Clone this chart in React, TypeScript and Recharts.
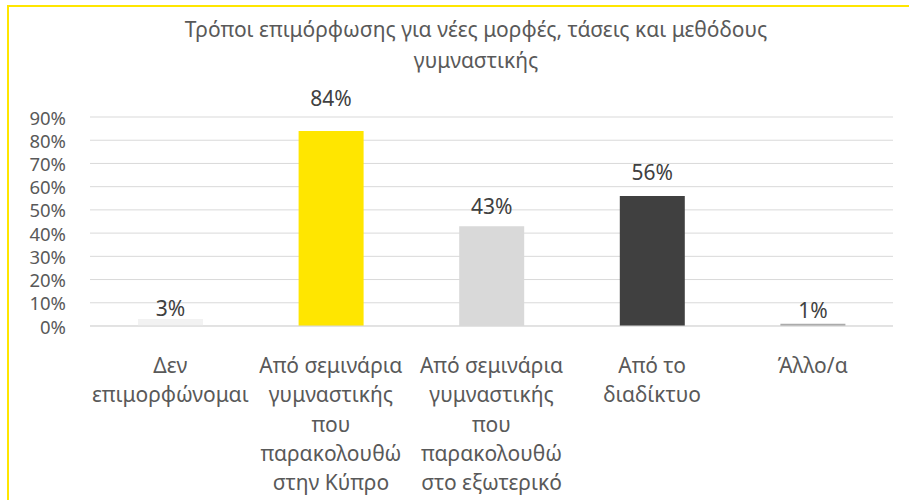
import React from "react";
import { BarChart, Bar, XAxis, YAxis, CartesianGrid, Cell, LabelList } from "recharts";

const categories = [
  "Δεν επιμορφώνομαι",
  "Από σεμινάρια γυμναστικής που παρακολουθώ στην Κύπρο",
  "Από σεμινάρια γυμναστικής που παρακολουθώ στο εξωτερικό",
  "Από το διαδίκτυο",
  "Άλλο/α",
];
const values = [0.03, 0.84, 0.43, 0.56, 0.01];
const categoryLines = [
  ["Δεν", "επιμορφώνομαι"],
  ["Από σεμινάρια", "γυμναστικής", "που", "παρακολουθώ", "στην Κύπρο"],
  ["Από σεμινάρια", "γυμναστικής", "που", "παρακολουθώ", "στο εξωτερικό"],
  ["Από το", "διαδίκτυο"],
  ["Άλλο/α"],
];
const yTicks = [0, 0.1, 0.2, 0.3, 0.4, 0.5, 0.6, 0.7, 0.8, 0.9];
const barColors = ["#F2F2F2", "#FFE600", "#D9D9D9", "#404040", "#ABABAB"];
const labelLift = [11, 33, 20, 24, 14];
const titleLines = ["Τρόποι επιμόρφωσης για νέες μορφές, τάσεις και μεθόδους", "γυμναστικής"];

const data = categories.map((c, i) => ({ name: c, value: values[i], idx: i }));

const FONT = "'Noto Sans', sans-serif";
const TEXT = "#595959";

const pct = (v: number) => `${Math.round(v * 100)}%`;

const CategoryTick = (props: any) => {
  const { x, y, payload } = props;
  const lines = categoryLines[payload.index] || [String(payload.value)];
  return (
    <g>
      {lines.map((l: string, i: number) => (
        <text
          key={i}
          x={x}
          y={y + 31 + i * 29.3}
          textAnchor="middle"
          dominantBaseline="central"
          fill={TEXT}
          fontSize={21}
          fontFamily={FONT}
        >
          {l}
        </text>
      ))}
    </g>
  );
};

const YTick = (props: any) => {
  const { x, y, payload } = props;
  return (
    <text x={x} y={y} textAnchor="end" dominantBaseline="central" fill={TEXT} fontSize={18.5} fontFamily={FONT}>
      {pct(payload.value)}
    </text>
  );
};

const ValueLabel = (props: any) => {
  const { x, y, width, value, index } = props;
  return (
    <text
      x={x + width / 2}
      y={y - labelLift[index]}
      textAnchor="middle"
      dominantBaseline="central"
      fill="#404040"
      fontSize={21}
      fontFamily={FONT}
    >
      {pct(value)}
    </text>
  );
};

export default function App() {
  return (
    <div style={{ position: "fixed", left: 0, top: 0, width: 909, height: 500, background: "#fff", overflow: "hidden" }}>
      <div
        style={{
          position: "absolute",
          left: 7,
          top: 5,
          width: 960,
          height: 560,
          borderTop: "2px solid #FFE600",
          borderLeft: "2px solid #FFE600",
          boxSizing: "border-box",
        }}
      />
      <div
        style={{
          position: "absolute",
          left: 0,
          top: 14,
          width: 952,
          textAlign: "center",
          fontFamily: FONT,
          fontSize: 21,
          lineHeight: "31px",
          color: TEXT,
        }}
      >
        {titleLines.map((t, i) => (
          <div key={i}>{t}</div>
        ))}
      </div>
      <div style={{ position: "absolute", left: 0, top: 0 }}>
        <BarChart width={909} height={500} data={data} margin={{ top: 117, right: 16, bottom: 0, left: 0 }} barSize={65}>
          <CartesianGrid vertical={false} stroke="#D9D9D9" strokeWidth={1} />
          <XAxis
            dataKey="name"
            height={174}
            tickLine={false}
            axisLine={{ stroke: "#D9D9D9" }}
            interval={0}
            tick={<CategoryTick />}
          />
          <YAxis
            width={90}
            domain={[0, 0.9]}
            ticks={yTicks}
            interval={0}
            axisLine={false}
            tickLine={false}
            tickSize={0}
            tickMargin={24}
            tick={<YTick />}
          />
          <Bar dataKey="value" isAnimationActive={false}>
            {data.map((d, i) => (
              <Cell key={i} fill={barColors[i]} />
            ))}
            <LabelList dataKey="value" content={<ValueLabel />} />
          </Bar>
        </BarChart>
      </div>
    </div>
  );
}
